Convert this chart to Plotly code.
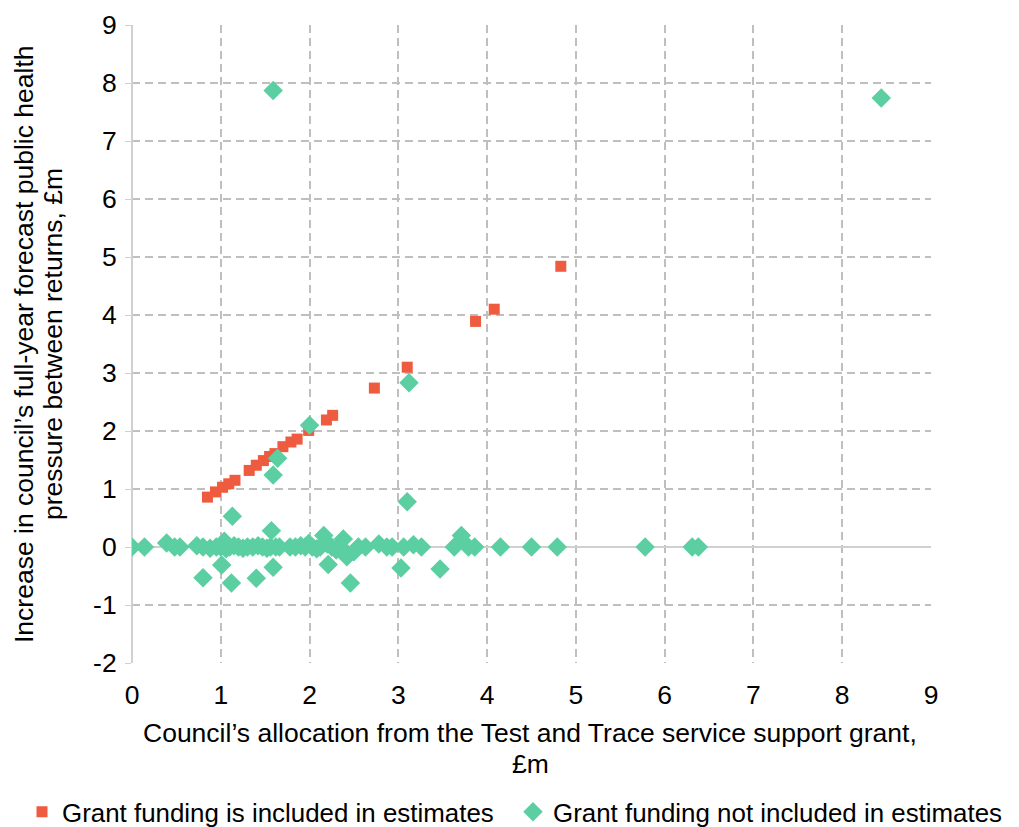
import plotly.graph_objects as go

# Grant funding is included in estimates
inc_x = [0.85, 0.94, 1.02, 1.09, 1.16, 1.32, 1.40, 1.48, 1.55, 1.61, 1.70, 1.79, 1.86, 1.99, 2.19, 2.26, 2.73, 3.10, 3.87, 4.08, 4.83]
inc_y = [0.86, 0.95, 1.03, 1.09, 1.15, 1.32, 1.41, 1.49, 1.56, 1.61, 1.73, 1.81, 1.86, 2.01, 2.19, 2.27, 2.74, 3.10, 3.89, 4.10, 4.84]

# Grant funding not included in estimates
not_x = [1.59, 8.44, 3.12, 2.00, 1.64, 1.59, 3.10, 1.13, 0.39, 1.57, 2.16, 2.38, 3.71,
         1.01, 0.80, 1.12, 1.59, 1.40, 2.21, 2.46, 2.42, 3.03, 3.47,
         0.00, 0.14, 0.48, 0.54, 0.73, 0.80, 0.88, 0.95, 1.00, 1.04, 1.06, 1.10, 1.15, 1.20,
         1.25, 1.30, 1.36, 1.42, 1.47, 1.52, 1.56, 1.62, 1.66, 1.78, 1.84, 1.90, 1.95, 1.99,
         2.03, 2.08, 2.12, 2.20, 2.25, 2.30, 2.35, 2.50, 2.55, 2.63, 2.78, 2.87, 2.93, 3.06,
         3.17, 3.26, 3.63, 3.79, 3.86, 4.15, 4.50, 4.79, 5.78, 6.31, 6.38]
not_y = [7.87, 7.74, 2.83, 2.10, 1.53, 1.24, 0.78, 0.53, 0.07, 0.28, 0.20, 0.14, 0.20,
         -0.31, -0.53, -0.62, -0.35, -0.54, -0.30, -0.62, -0.17, -0.36, -0.38,
         0.00, 0.00, 0.00, 0.00, 0.02, 0.00, -0.02, 0.00, 0.00, 0.10, -0.03, 0.00, 0.02, 0.00,
         -0.02, 0.00, 0.00, 0.02, 0.00, -0.02, 0.00, 0.00, 0.00, 0.00, 0.00, 0.02, 0.00, 0.06,
         0.00, -0.03, 0.00, 0.05, 0.00, -0.05, 0.00, -0.08, 0.00, 0.00, 0.05, 0.00, 0.00, 0.00,
         0.04, 0.00, 0.00, 0.00, 0.00, 0.00, 0.00, 0.00, 0.00, 0.00, 0.00]

x_ticks = list(range(0, 10))
y_ticks = list(range(-2, 10))

x_title_lines = ["Council’s allocation from the Test and Trace service support grant,", "£m"]
y_title_lines = ["Increase in council’s full-year forecast public health", "pressure between returns, £m"]

RED = "#EE5B3F"
GREEN = "#5BCFA2"
FONT = "Liberation Sans, Arial, sans-serif"
FS = 26.5
LFS = 25.9

W, H = 1011, 819
L, T, PW, PH = 124, 17, 799, 638

fig = go.Figure()
fig.add_trace(go.Scatter(x=inc_x, y=inc_y, mode="markers", name="Grant funding is included in estimates",
                         marker=dict(symbol="square", size=11, color=RED), legend="legend"))
fig.add_trace(go.Scatter(x=not_x, y=not_y, mode="markers", name="Grant funding not included in estimates",
                         marker=dict(symbol="diamond", size=15, color=GREEN), legend="legend2"))

annotations = []
for line, yy in zip(x_title_lines, [725, 756]):
    annotations.append(dict(text=line, x=(530 - 8 - L) / PW, y=-(yy - (T + PH)) / PH, xref="paper", yref="paper",
                            xanchor="center", yanchor="middle", showarrow=False, font=dict(size=FS)))
for line, xx in zip(y_title_lines, [16, 45]):
    annotations.append(dict(text=line, x=(xx - L) / PW, y=0.5, xref="paper", yref="paper",
                            xanchor="center", yanchor="middle", textangle=-90, showarrow=False, font=dict(size=FS)))

leg_y = -(804 - (T + PH)) / PH
leg_common = dict(orientation="h", xref="container", xanchor="left", y=leg_y, yanchor="middle",
                  font=dict(size=LFS), itemwidth=30, bgcolor="rgba(0,0,0,0)")

fig.update_layout(
    width=W, height=H,
    margin=dict(l=L, r=W - L - PW, t=T, b=H - T - PH, autoexpand=False),
    paper_bgcolor="white", plot_bgcolor="white",
    font=dict(family=FONT, size=FS, color="#000000"),
    showlegend=True,
    legend=dict(x=14 / W, **leg_common),
    legend2=dict(x=505 / W, **leg_common),
    annotations=annotations,
)
fig.update_xaxes(
    range=[0, 9], tickvals=x_ticks, ticktext=[str(v) for v in x_ticks], automargin=False,
    showgrid=True, gridcolor="#BFBFBF", griddash="8px,5px", gridwidth=1.5,
    zeroline=True, zerolinecolor="#D0D0D0", zerolinewidth=1.5,
    showline=False, ticks="", tickfont=dict(size=FS), ticklabelstandoff=13,
)
fig.update_yaxes(
    range=[-2, 9], tickvals=y_ticks, ticktext=[str(v) for v in y_ticks], automargin=False,
    showgrid=True, gridcolor="#BFBFBF", griddash="8px,5px", gridwidth=1.5,
    zeroline=True, zerolinecolor="#D0D0D0", zerolinewidth=1.5,
    showline=False, ticks="outside", ticklen=6, tickcolor="#D0D0D0", tickfont=dict(size=FS),
    ticklabelstandoff=3,
)

fig.write_html("out.html")
